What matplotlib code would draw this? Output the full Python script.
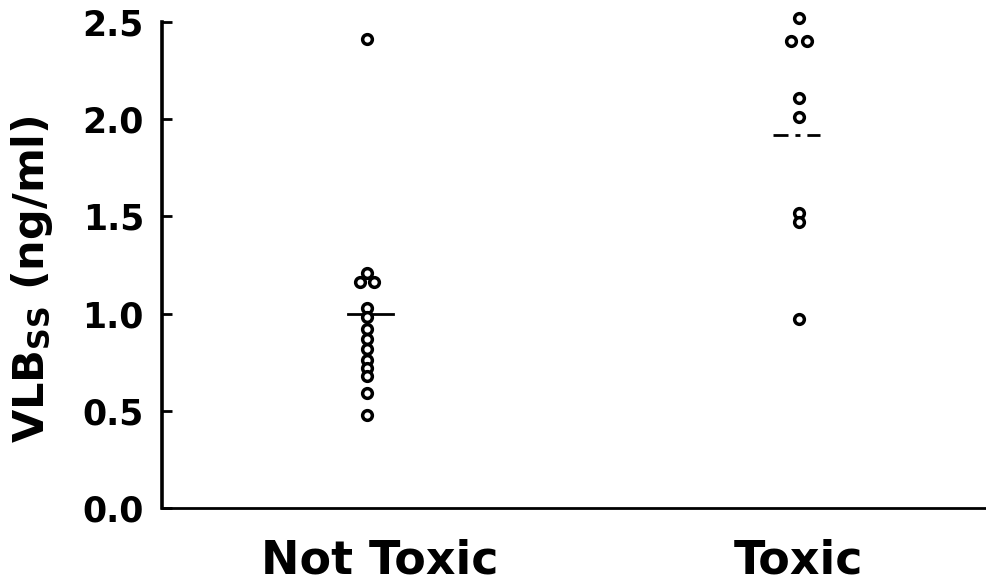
import matplotlib
matplotlib.use("Agg")
import matplotlib.pyplot as plt

plt.rcParams['font.family'] = ['DejaVu Sans']
plt.rcParams['font.weight'] = 'bold'
plt.rcParams['mathtext.fontset'] = 'custom'
plt.rcParams['mathtext.rm'] = 'DejaVu Sans:bold'
plt.rcParams['mathtext.bf'] = 'DejaVu Sans:bold'
plt.rcParams['mathtext.it'] = 'DejaVu Sans:bold'

categories = ["Not Toxic", "Toxic"]
not_toxic_values = [2.41, 1.21, 1.16, 1.16, 1.03, 0.98, 0.92, 0.87, 0.82, 0.76, 0.72, 0.68, 0.59, 0.48]
not_toxic_offsets = [0, 0, -0.017, 0.017, 0, 0, 0, 0, 0, 0, 0, 0, 0, 0]
toxic_values = [2.52, 2.40, 2.40, 2.11, 2.01, 1.52, 1.47, 0.97]
toxic_offsets = [0, -0.018, 0.018, 0, 0, 0, 0, 0]
means = [1.00, 1.92]
y_ticks = [0.0, 0.5, 1.0, 1.5, 2.0, 2.5]

fig = plt.figure(figsize=(9.87, 5.87), dpi=100)
ax = fig.add_axes([162/987, 1-508/587, 1-162/987, (508-22)/587])

mk = dict(marker='o', markersize=7, markerfacecolor='white', markeredgecolor='black',
          markeredgewidth=2.5, linestyle='none', zorder=3, clip_on=False)
ax.plot([-0.01 + o for o in not_toxic_offsets], not_toxic_values, **mk)
ax.plot([1 + o for o in toxic_offsets], toxic_values, **mk)

ax.plot([-0.055, 0.05], [means[0], means[0]], color='black', lw=2, zorder=2)
ax.plot([1 - 0.06, 1 + 0.05], [means[1], means[1]], color='black', lw=2,
        dashes=(5.4, 2.5, 1.8, 2.5), zorder=2)

ax.set_xlim(-0.49, 1.44)
ax.set_ylim(0, 2.5)
ax.set_yticks(y_ticks)
ax.set_yticklabels([f"{v:.1f}" for v in y_ticks])
ax.set_xticks([0.02, 1])
ax.set_xticklabels(categories)

ax.spines['top'].set_visible(False)
ax.spines['right'].set_visible(False)
ax.spines['left'].set_linewidth(2.6)
ax.spines['bottom'].set_linewidth(2.0)

ax.tick_params(axis='y', direction='in', length=7, width=2, labelsize=25, pad=13)
ax.tick_params(axis='x', length=0, labelsize=33, pad=22)
for t in ax.get_xticklabels() + ax.get_yticklabels():
    t.set_fontweight('bold')

ax.set_ylabel(r'VLB$_{\mathrm{SS}}$ (ng/ml)', fontsize=31, fontweight='bold')
ax.yaxis.set_label_coords(-0.13, 0.47)

fig.savefig("out.png", dpi=100)
